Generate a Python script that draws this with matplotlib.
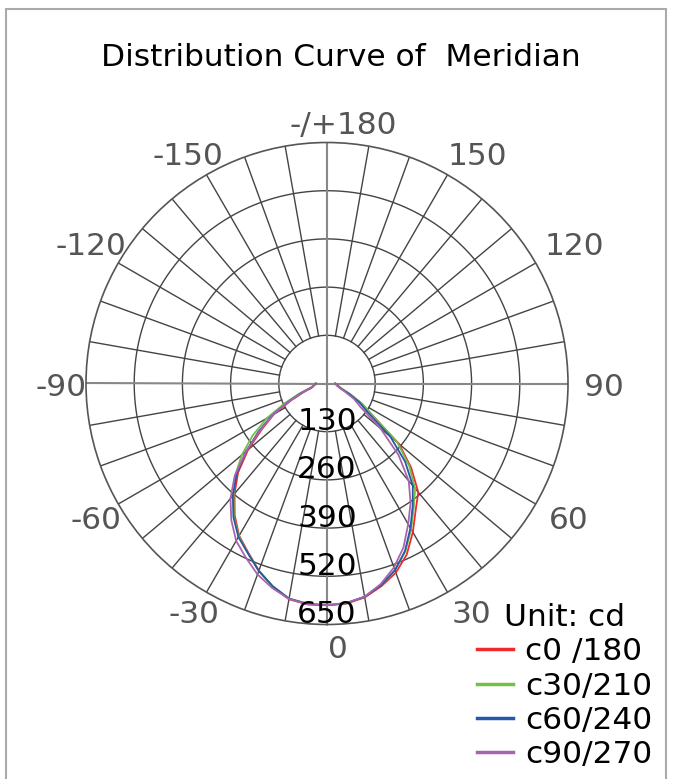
import numpy as np
import matplotlib.pyplot as plt
import matplotlib.transforms as mtransforms
from matplotlib.patches import Rectangle

plt.rcParams['font.family'] = ['DejaVu Sans']

# angles in degrees, 0 = straight down, positive to the right
angles = list(range(-90, 95, 5))

# luminous intensity (cd) for each C-plane
c0_180 = [30, 33, 37, 42, 66, 106, 165, 214, 278, 339, 388, 434, 474, 503, 537, 567, 591, 598,
          598, 596, 586, 566, 543, 509, 463, 417, 383, 321, 254, 150, 108, 68, 42, 33, 28, 25, 22]
c30_210 = [30, 33, 38, 48, 80, 125, 188, 245, 300, 350, 392, 438, 476, 505, 538, 566, 589, 596,
           598, 595, 584, 562, 536, 500, 454, 408, 370, 313, 248, 150, 110, 72, 45, 34, 29, 25, 22]
c60_240 = [30, 33, 37, 45, 72, 112, 170, 225, 285, 345, 395, 440, 478, 505, 538, 566, 589, 597,
           598, 595, 584, 563, 536, 498, 450, 403, 360, 298, 223, 132, 100, 65, 40, 32, 28, 25, 22]
c90_270 = [32, 35, 38, 45, 70, 112, 168, 220, 285, 352, 405, 450, 490, 518, 548, 571, 590, 598,
           598, 594, 584, 560, 528, 488, 438, 393, 343, 273, 188, 110, 85, 55, 38, 30, 26, 24, 22]

series = [c0_180, c30_210, c60_240, c90_270]
series_labels = ['c0 /180', 'c30/210', 'c60/240', 'c90/270']
series_colors = ['#ee2a2a', '#72c04a', '#2559a8', '#a964ad']

ring_values = [130, 260, 390, 520, 650]
angle_ticks = [0, 30, 60, 90, 120, 150, 180, 210, 240, 270, 300, 330]
angle_labels = ['0', '30', '60', '90', '120', '150', '-/+180',
                '-150', '-120', '-90', '-60', '-30']

fs = 22.5

fig = plt.figure(figsize=(6.73, 7.79), dpi=100)
ax = fig.add_axes([86 / 673, 154.5 / 779, 482 / 673, 482 / 779], projection='polar')
ax.set_theta_zero_location('S')
ax.set_theta_direction(1)
ax.set_ylim(0, ring_values[-1])
ax.grid(False)
ax.set_xticks([])
ax.set_yticks([])
ax.spines['polar'].set_color('#555555')
ax.spines['polar'].set_linewidth(1.2)

# rings
full = np.linspace(0, 2 * np.pi, 361)
for r in ring_values[:-1]:
    ax.plot(full, np.full_like(full, r), color='#444444', lw=1)

# spokes every 10 degrees, main axes go through the centre
for a in range(0, 360, 10):
    t = np.radians(a)
    if a % 90 == 0:
        ax.plot([t, t], [0, ring_values[-1]], color='#888888', lw=1.5)
    else:
        ax.plot([t, t], [ring_values[0], ring_values[-1]], color='#444444', lw=1)

# curves
handles = []
for vals, lab, col in zip(series, series_labels, series_colors):
    h, = ax.plot(np.radians(angles), vals, color=col, lw=1.3, label=lab)
    handles.append(h)

# radial labels along the 0 direction
for r in ring_values:
    ax.text(0, r - 27, str(r), ha='center', va='center', fontsize=fs, color='black')

# angle labels (labels on the right half sit a little further right)
for a, lab in zip(angle_ticks, angle_labels):
    dx = 11 if a <= 180 else 0
    if a in (120, 150, 210, 240):
        dx += 6 if a <= 180 else -6
    if a == 180:
        dx += 5
    dy = 0 if a in (30, 330, 0) else (4 if a in (120, 240) else -4)
    if a == 180:
        dy = -8
    tr = mtransforms.offset_copy(ax.transData, fig=fig, x=dx, y=dy, units='dots')
    ax.text(np.radians(a), 718, lab, ha='center', va='center', fontsize=fs,
            color='#555555', transform=tr)

fig.text(0.507, 1 - 57 / 779, 'Distribution Curve of  Meridian', ha='center', va='center',
         fontsize=fs, color='black')

leg = fig.legend(handles, series_labels, title='Unit: cd', loc='upper left',
                 bbox_to_anchor=(477 / 673, 1 - 603 / 779), frameon=False, fontsize=fs,
                 title_fontsize=fs, borderpad=0, borderaxespad=0, handlelength=1.15,
                 handletextpad=0.4, labelspacing=0.17)
for line in leg.get_lines():
    line.set_linewidth(2.5)

# outer frame
fig.patches.append(Rectangle((6 / 673, -0.01), 660 / 673, (779 - 9) / 779 + 0.01,
                             transform=fig.transFigure, fill=False, ec='#aaaaaa', lw=1.5))

fig.savefig('out.png', dpi=100)
